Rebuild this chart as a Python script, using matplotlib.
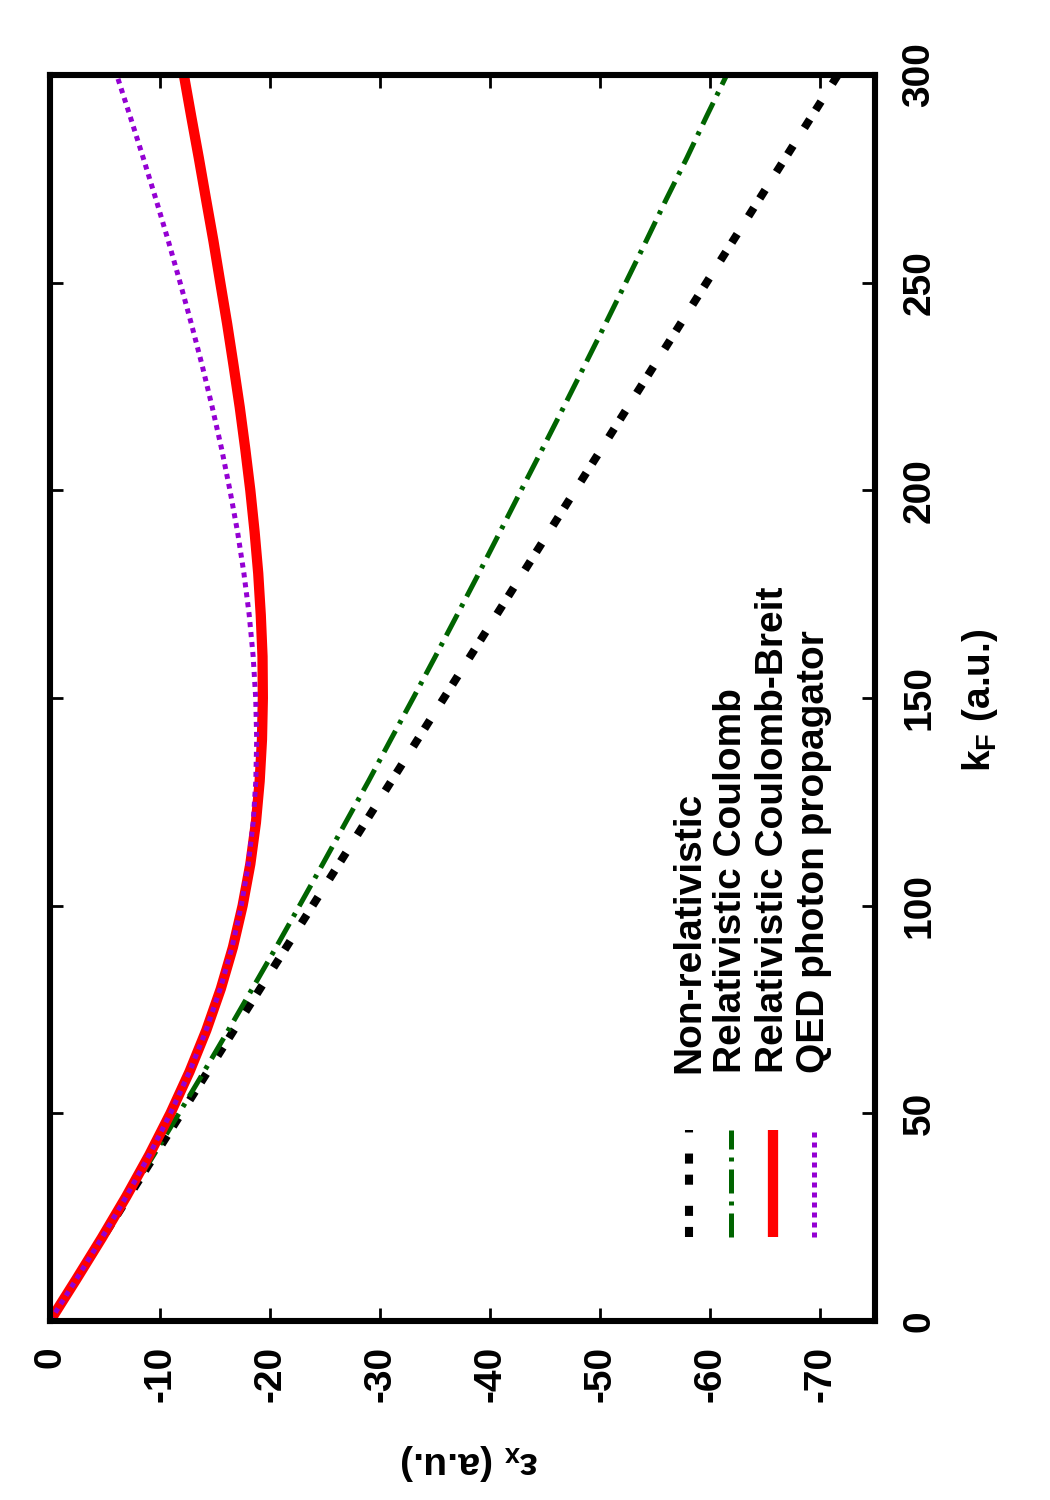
import matplotlib
matplotlib.use("Agg")
import matplotlib.pyplot as plt

plt.rcParams['font.family'] = ['Liberation Sans', 'DejaVu Sans']
plt.rcParams['font.weight'] = 'bold'
plt.rcParams['axes.unicode_minus'] = False
plt.rcParams['mathtext.fontset'] = 'custom'
plt.rcParams['mathtext.rm'] = 'Liberation Sans:bold'
plt.rcParams['mathtext.it'] = 'Liberation Sans:bold'
plt.rcParams['mathtext.bf'] = 'Liberation Sans:bold'

# ---------------- data ----------------
kF_nonrel = [0, 50, 100, 150, 200, 250, 300]
ex_nonrel = [0.0, -11.94, -23.87, -35.81, -47.75, -59.68, -71.62]

kF = [0, 10, 20, 30, 40, 50, 60, 70, 80, 90, 100, 110, 120, 130, 140, 150,
      160, 170, 180, 190, 200, 210, 220, 230, 240, 250, 260, 270, 280, 290, 300]

ex_rel_coulomb = [0.0, -2.39, -4.76, -7.11, -9.44, -11.73, -13.99, -16.21, -18.39,
                  -20.56, -22.68, -24.79, -26.87, -28.96, -30.98, -33.02, -35.03,
                  -37.01, -38.98, -40.91, -42.83, -44.77, -46.69, -48.59, -50.48,
                  -52.34, -54.19, -56.01, -57.89, -59.68, -61.52]

ex_rel_breit = [0.0, -2.38, -4.71, -6.94, -9.03, -10.95, -12.68, -14.21, -15.53,
                -16.63, -17.51, -18.21, -18.72, -19.06, -19.27, -19.35, -19.32,
                -19.16, -18.93, -18.60, -18.21, -17.75, -17.25, -16.69, -16.11,
                -15.48, -14.86, -14.19, -13.53, -12.84, -12.17]

ex_qed = [0.0, -2.38, -4.71, -6.94, -9.03, -10.95, -12.68, -14.19, -15.48,
          -16.55, -17.39, -18.03, -18.47, -18.71, -18.79, -18.70, -18.47,
          -18.11, -17.63, -17.05, -16.36, -15.60, -14.75, -13.84, -12.86,
          -11.83, -10.76, -9.64, -8.48, -7.29, -6.07]

labels = ["Non-relativistic", "Relativistic Coulomb",
          "Relativistic Coulomb-Breit", "QED photon propagator"]

eps_ticks = [0, -10, -20, -30, -40, -50, -60, -70]
kF_ticks = [0, 50, 100, 150, 200, 250, 300]

# ---------------- styles ----------------
W, H = 1050, 1500
FS = 28
fig = plt.figure(figsize=(W / 100, H / 100), dpi=100)
ax = fig.add_axes([50 / W, 1 - 1321 / H, 825 / W, 1246 / H])

styles = [
    dict(color='black', lw=5.8, dashes=(1.25, 1.37, 1.25, 2.62)),
    dict(color='#006400', lw=3.6, dashes=(4.8, 1.6, 0.8, 1.6)),
    dict(color='#ff0000', lw=7.4, dashes=None),
    dict(color='#9400d3', lw=3.6, dashes=(1.0, 1.0)),
]

series = [(kF_nonrel, ex_nonrel), (kF, ex_rel_coulomb), (kF, ex_rel_breit), (kF, ex_qed)]

# chart drawn rotated: horizontal = epsilon_x, vertical = k_F
for (k, e), st in zip(series, styles):
    ln, = ax.plot(e, k, color=st['color'], lw=st['lw'], solid_capstyle='butt',
                  dash_capstyle='butt')
    if st['dashes'] is not None:
        ln.set_dashes(st['dashes'])

ax.set_xlim(0, -75)
ax.set_ylim(0, 300)
ax.set_xticks(eps_ticks)
ax.set_xticklabels([str(t) for t in eps_ticks], rotation=90, fontweight='bold')
ax.set_yticks(kF_ticks)
ax.set_yticklabels([str(t) for t in kF_ticks], rotation=90, va='center',
                   fontweight='bold')

ax.tick_params(axis='both', direction='in', length=9.4, width=2.0,
               top=True, bottom=True, left=True, right=True,
               labelsize=FS, colors='black')
ax.tick_params(axis='x', pad=18, labelbottom=True, labeltop=False)
ax.tick_params(axis='y', pad=19, labelleft=False, labelright=True)
for sp in ax.spines.values():
    sp.set_linewidth(4.4)

# axis titles (rotated with the chart)
fig.text(980 / W, 1 - 700 / H, r'k$_\mathregular{F}$ (a.u.)', rotation=90,
         ha='center', va='center', fontsize=FS, fontweight='bold')
fig.text(470 / W, 1 - 1462 / H, r'ε$_\mathregular{x}$ (a.u.)', rotation=180,
         ha='center', va='center', fontsize=FS, fontweight='bold')

# legend drawn manually (rotated)
row_x = [(689 - 50) / 825, (731 - 50) / 825, (773 - 50) / 825, (814 - 50) / 825]
y0, y1 = (1321 - 1237) / 1246, (1321 - 1130) / 1246
ytxt = (1321 - 1073) / 1246
for xr, lab, st in zip(row_x, labels, styles):
    ln, = ax.plot([xr, xr], [y0, y1], transform=ax.transAxes, color=st['color'],
                  lw=st['lw'], solid_capstyle='butt', dash_capstyle='butt',
                  clip_on=False)
    if st['dashes'] is not None:
        ln.set_dashes(st['dashes'])
    ax.text(xr, ytxt, lab, transform=ax.transAxes, rotation=90, ha='center',
            va='bottom', fontsize=FS, fontweight='bold')

fig.savefig('out.png', dpi=100)
